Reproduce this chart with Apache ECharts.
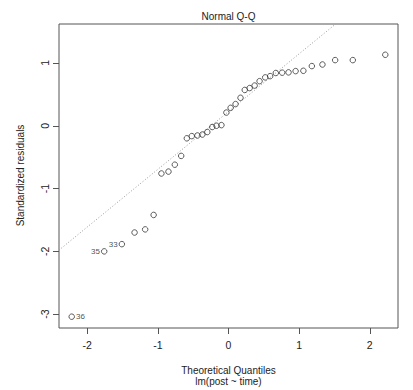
<!DOCTYPE html>
<html>
<head>
<meta charset="utf-8">
<script src="https://cdn.jsdelivr.net/npm/echarts@6/dist/echarts.min.js"></script>
<style>
html,body{margin:0;padding:0;background:#fff;}
#chart{width:413px;height:390px;}
</style>
</head>
<body>
<div id="chart"></div>
<script>
// Theoretical quantiles (x)
var theoretical = [-2.22, -1.76, -1.51, -1.33, -1.18, -1.06, -0.95, -0.85, -0.76, -0.67,
  -0.59, -0.52, -0.44, -0.37, -0.30, -0.23, -0.17, -0.10, -0.03, 0.03,
  0.10, 0.17, 0.23, 0.30, 0.37, 0.44, 0.52, 0.59, 0.67, 0.76,
  0.85, 0.95, 1.06, 1.18, 1.33, 1.51, 1.76, 2.22];
// Standardized residuals (y)
var residuals = [-3.04, -2.00, -1.885, -1.70, -1.65, -1.42, -0.76, -0.73, -0.62, -0.48,
  -0.20, -0.165, -0.155, -0.14, -0.10, -0.02, 0.00, 0.01, 0.21, 0.285,
  0.345, 0.445, 0.57, 0.60, 0.64, 0.71, 0.77, 0.79, 0.84, 0.845,
  0.85, 0.87, 0.875, 0.95, 0.975, 1.045, 1.045, 1.13];
// Labelled points (index into arrays), their text and side
var labelIndex = [0, 1, 2];
var labelText = ['36', '35', '33'];
var labelSide = ['right', 'left', 'left'];
// Reference (qq) line endpoints
var refLineX = [-2.40, 1.517];
var refLineY = [-1.98, 1.62];
// Axis ticks
var xTicks = [-2, -1, 0, 1, 2];
var yTicks = [-3, -2, -1, 0, 1];
var xRange = [-2.40, 2.40];
var yRange = [-3.22, 1.62];

var FONT = 'Liberation Sans, Arial, sans-serif';
var TXT = '#222';

var pts = theoretical.map(function (x, i) {
  var item = { value: [x, residuals[i]] };
  var k = labelIndex.indexOf(i);
  if (k >= 0) {
    item.label = { show: true, formatter: labelText[k], position: labelSide[k],
      distance: 1, fontSize: 8, color: TXT, fontFamily: FONT };
  }
  return item;
});
var linePts = refLineX.map(function (x, i) { return [x, refLineY[i]]; });

var chart = echarts.init(document.getElementById('chart'), null, { renderer: 'svg' });
chart.setOption({
  animation: false,
  backgroundColor: '#fff',
  grid: { left: 59, top: 24, width: 339, height: 304, show: true,
    borderColor: '#555', borderWidth: 1, backgroundColor: 'transparent' },
  xAxis: {
    type: 'value', min: xRange[0], max: xRange[1], position: 'bottom',
    axisLine: { show: false, onZero: false },
    splitLine: { show: false },
    axisTick: { show: true, inside: false, length: 6, customValues: xTicks,
      lineStyle: { color: '#555', width: 1 } },
    axisLabel: { customValues: xTicks, margin: 11, fontSize: 10.5, color: TXT, fontFamily: FONT,
      showMinLabel: true, showMaxLabel: true }
  },
  yAxis: {
    type: 'value', min: yRange[0], max: yRange[1], position: 'left',
    axisLine: { show: false, onZero: false },
    splitLine: { show: false },
    axisTick: { show: true, inside: false, length: 6, customValues: yTicks,
      lineStyle: { color: '#555', width: 1 } },
    axisLabel: { customValues: yTicks, rotate: 90, margin: 14, fontSize: 10.5, color: TXT, fontFamily: FONT,
      align: 'center', verticalAlign: 'middle' }
  },
  graphic: [
    { type: 'text', x: 228.5, y: 16, style: { text: 'Normal Q-Q', align: 'center', verticalAlign: 'middle',
      font: '10px ' + FONT, fill: TXT } },
    { type: 'text', x: 228.5, y: 370, style: { text: 'Theoretical Quantiles', align: 'center', verticalAlign: 'middle',
      font: '10px ' + FONT, fill: TXT } },
    { type: 'text', x: 228.5, y: 381, style: { text: 'lm(post ~ time)', align: 'center', verticalAlign: 'middle',
      font: '10px ' + FONT, fill: TXT } },
    { type: 'text', x: 20, y: 175.5, rotation: Math.PI / 2, style: { text: 'Standardized residuals', align: 'center',
      verticalAlign: 'middle', font: '10px ' + FONT, fill: TXT } }
  ],
  series: [
    {
      type: 'line', data: linePts, symbol: 'none', silent: true, clip: true,
      lineStyle: { color: '#999', width: 1, type: [1, 2] }, z: 1
    },
    {
      type: 'scatter', data: pts, symbol: 'circle', symbolSize: 5.5, clip: false,
      itemStyle: { color: 'transparent', borderColor: '#333', borderWidth: 1 }, z: 2
    }
  ]
});
</script>
</body>
</html>
